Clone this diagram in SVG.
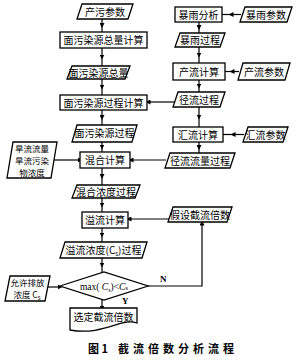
<svg xmlns="http://www.w3.org/2000/svg" width="300" height="360" viewBox="0 0 300 360">
<defs>
<marker id="ah" viewBox="0 0 10 10" refX="5" refY="5" markerWidth="5" markerHeight="5" orient="auto" markerUnits="userSpaceOnUse">
<path d="M0,0 L10,5 L0,10 Z" fill="#000"/>
</marker>
</defs>
<style>
.b{fill:#fff;stroke:#000;stroke-width:1.3}
.t{font-family:"Noto Sans CJK SC","Noto Sans",sans-serif;font-size:10px;fill:#000;text-anchor:middle}
.s{font-size:8.5px}
.c{fill:none;stroke:#000;stroke-width:1.2;marker-mid:url(#ah)}
.ce{fill:none;stroke:#000;stroke-width:1.2;marker-end:url(#ah)}
.l{font-family:"Liberation Serif",serif;font-size:9px;font-weight:bold;fill:#000}
.cap{font-family:"Noto Sans CJK SC",sans-serif;font-size:11px;font-weight:bold;fill:#000}
</style>
<rect width="300" height="360" fill="#fff"/>
<g id="connectors">
<path class="c" d="M102,19 V25.5 V32"/>
<path class="c" d="M102,48 V57 V66"/>
<path class="c" d="M102,79 V87 V95"/>
<path class="c" d="M102,110 V117.5 V125"/>
<path class="c" d="M102,142 V147 V152"/>
<path class="c" d="M102,168 V176.5 V185"/>
<path class="c" d="M102,198 V205 V212"/>
<path class="c" d="M102,228 V235 V242"/>
<path class="c" d="M102,258 V265 V272"/>
<path class="ce" d="M102,300 V308"/>
<path class="c" d="M199,22 V27.5 V33"/>
<path class="c" d="M199,47 V55 V63"/>
<path class="c" d="M199,80 V86 V92"/>
<path class="c" d="M199,107 V117 V127"/>
<path class="c" d="M199,142 V147.5 V153"/>
<path class="c" d="M241,14.5 H231 H222"/>
<path class="c" d="M239,71.5 H232 H225"/>
<path class="c" d="M244,134.5 H233 H223"/>
<path class="ce" d="M174,102 H148"/>
<path class="ce" d="M166,160 H131"/>
<path class="ce" d="M54,160 H80"/>
<path class="ce" d="M170,219 H129"/>
<path class="ce" d="M148,286 H202 V223"/>
<path class="ce" d="M48,287 H60"/>
</g>
<g id="n1"><polygon class="b" points="82,4 133,4 128,19 77,19"/><text class="t" x="105" y="15.5">产污参数</text></g>
<g id="n2"><rect class="b" x="60" y="32" width="87" height="16"/><text class="t" x="103.5" y="44">面污染源总量计算</text></g>
<g id="n3"><polygon class="b" points="72,66 130,66 125,79 67,79"/><text class="t" x="98.5" y="76.5">面污染源总量</text></g>
<g id="n4"><rect class="b" x="60" y="95" width="87" height="15"/><text class="t" x="103.5" y="106.5">面污染源过程计算</text></g>
<g id="n5"><polygon class="b" points="77,125 137,125 132,142 72,142"/><text class="t" x="104.5" y="137">面污染源过程</text></g>
<g id="n6"><rect class="b" x="80" y="152" width="50" height="16"/><text class="t" x="105" y="164">混合计算</text></g>
<g id="n7"><polygon class="b" points="77,185 140,185 135,198 72,198"/><text class="t" x="106" y="195.5">混合浓度过程</text></g>
<g id="n8"><rect class="b" x="82" y="212" width="46" height="16"/><text class="t" x="105" y="224">溢流计算</text></g>
<g id="n9"><polygon class="b" points="65,242 147,242 142,258 60,258"/><text class="t" x="103.5" y="254">溢流浓度(C<tspan font-size="6" dy="2">s</tspan><tspan dy="-2">)过程</tspan></text></g>
<g id="n10"><polygon class="b" points="60,286 104,272 148,286 104,300"/><text class="t" x="104" y="289.5" style="font-family:'Liberation Serif',serif;font-size:9.5px">max( <tspan font-style="italic">C</tspan><tspan font-size="6" dy="2">s</tspan><tspan dy="-2">)&lt;</tspan><tspan font-style="italic">C</tspan><tspan font-size="7">s</tspan></text></g>
<g id="n11"><path class="b" d="M70,308 H137 V323 C122,317 104,336 70,330 Z"/><text class="t" x="103.5" y="321">选定截流倍数</text></g>
<g id="n12"><rect class="b" x="175" y="7" width="47" height="15"/><text class="t" x="198.5" y="18.5">暴雨分析</text></g>
<g id="n13"><polygon class="b" points="245,7 292,7 287,22 240,22"/><text class="t" x="266" y="18.5">暴雨参数</text></g>
<g id="n14"><polygon class="b" points="180,33 225,33 220,47 175,47"/><text class="t" x="200" y="44">暴雨过程</text></g>
<g id="n15"><rect class="b" x="173" y="63" width="52" height="17"/><text class="t" x="199" y="75.5">产流计算</text></g>
<g id="n16"><polygon class="b" points="243,63 290,63 285,80 238,80"/><text class="t" x="264" y="75.5">产流参数</text></g>
<g id="n17"><polygon class="b" points="178,92 225,92 220,107 173,107"/><text class="t" x="199" y="103.5">径流过程</text></g>
<g id="n18"><rect class="b" x="173" y="127" width="50" height="15"/><text class="t" x="198" y="138.5">汇流计算</text></g>
<g id="n19"><polygon class="b" points="248,127 288,127 283,142 243,142"/><text class="t" x="265.5" y="138.5">汇流参数</text></g>
<g id="n20"><polygon class="b" points="170,153 235,153 230,168 165,168"/><text class="t" x="200" y="164.5">径流流量过程</text></g>
<g id="n21"><polygon class="b" points="173,207 232,207 227,222 168,222"/><text class="t" x="200" y="218.5">假设截流倍数</text></g>
<g id="n22"><polygon class="b" points="13,142 57,142 51,178 7,178"/><text class="t s" x="32" y="152">旱流流量</text><text class="t s" x="32" y="164">旱流污染</text><text class="t s" x="32" y="176">物浓度</text></g>
<g id="n23"><polygon class="b" points="10,276 50,276 45,301 5,301"/><text class="t s" x="27.5" y="286">允许排放</text><text class="t s" x="27" y="298">浓度 C<tspan font-size="6" dy="1.5">s</tspan></text></g>
<text class="l" x="160" y="282">N</text>
<text class="l" x="122" y="304">Y</text>
<text class="cap" x="88" y="353">图 1</text>
<text class="cap" x="118" y="353" letter-spacing="4">截流倍数分析流程</text>
</svg>
